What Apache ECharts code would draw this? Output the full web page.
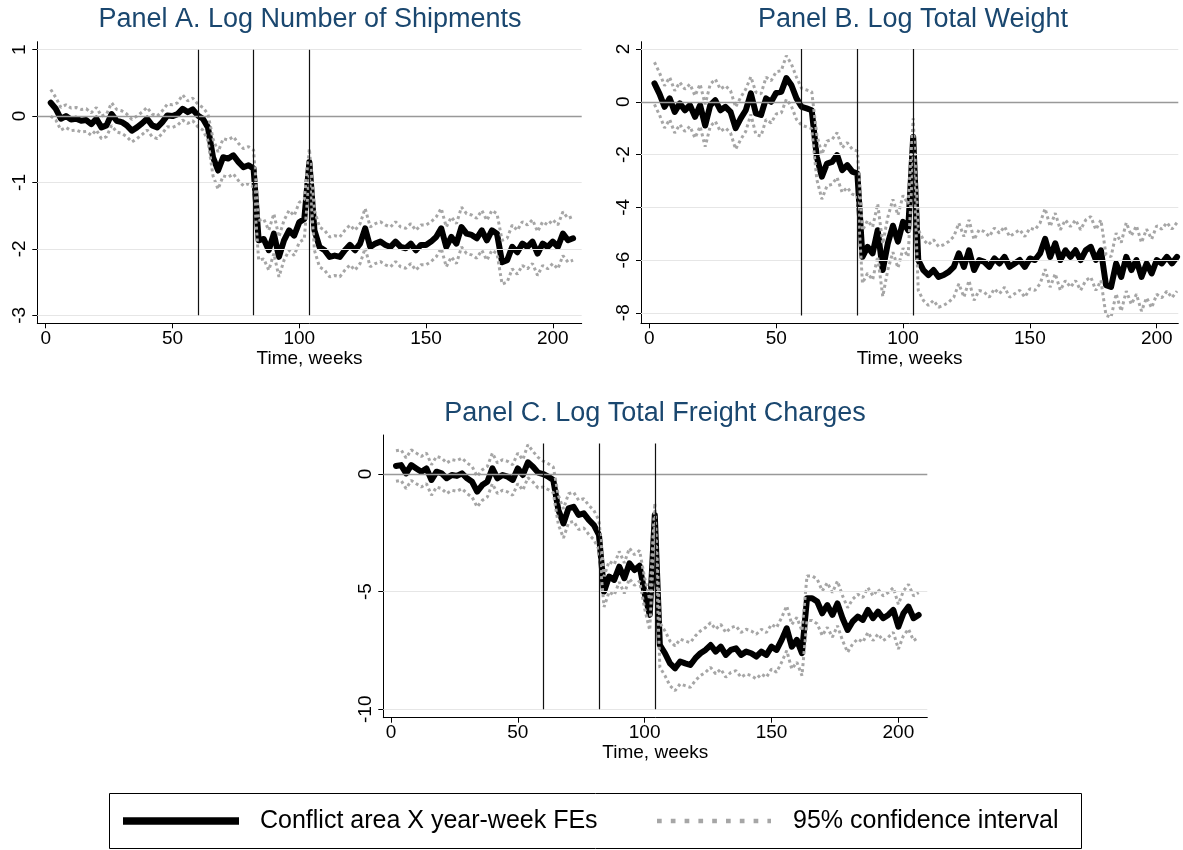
<!DOCTYPE html>
<html>
<head>
    <meta charset="UTF-8"/>
    <script src="https://cdn.jsdelivr.net/npm/echarts@6/dist/echarts.min.js"></script>
    <style>
        html, body { margin: 0; padding: 0; background: #fff; }
        #main { width: 1183px; height: 850px; }
    </style>
</head>
<body>
<div id="main"></div>
<script type="text/javascript">
    // weeks (x values shared by every series)
    var weeks = [2, 4, 6, 8, 10, 12, 14, 16, 18, 20,
        22, 24, 26, 28, 30, 32, 34, 36, 38, 40,
        42, 44, 46, 48, 50, 52, 54, 56, 58, 60,
        62, 64, 66, 68, 70, 72, 74, 76, 78, 80,
        82, 84, 86, 88, 90, 92, 94, 96, 98, 100,
        102, 104, 106, 108, 110, 112, 114, 116, 118, 120,
        122, 124, 126, 128, 130, 132, 134, 136, 138, 140,
        142, 144, 146, 148, 150, 152, 154, 156, 158, 160,
        162, 164, 166, 168, 170, 172, 174, 176, 178, 180,
        182, 184, 186, 188, 190, 192, 194, 196, 198, 200,
        202, 204, 206, 208];

    // Panel A - log number of shipments
    var aMid = [0.20, 0.11, -0.04, 0.00, -0.05, -0.04, -0.07, -0.06, -0.12, -0.04,
        -0.17, -0.14, 0.03, -0.07, -0.09, -0.14, -0.22, -0.17, -0.11, -0.04,
        -0.14, -0.17, -0.09, 0.01, 0.00, 0.03, 0.11, 0.06, 0.10, 0.01,
        -0.04, -0.17, -0.62, -0.82, -0.62, -0.64, -0.59, -0.69, -0.77, -0.74,
        -0.79, -1.87, -1.85, -2.02, -1.77, -2.12, -1.87, -1.72, -1.80, -1.60,
        -1.55, -0.69, -1.72, -1.97, -2.02, -2.12, -2.10, -2.12, -2.02, -1.94,
        -2.02, -1.92, -1.69, -1.97, -1.92, -1.89, -1.94, -1.97, -1.89, -1.97,
        -1.99, -1.92, -2.02, -1.94, -1.94, -1.89, -1.82, -1.69, -1.97, -1.82,
        -1.92, -1.67, -1.77, -1.79, -1.84, -1.72, -1.87, -1.72, -1.77, -2.20,
        -2.17, -1.97, -2.05, -1.92, -1.97, -1.89, -2.07, -1.92, -1.97, -1.89,
        -1.97, -1.77, -1.87, -1.84];
    var aHi = [0.40, 0.28, 0.13, 0.17, 0.12, 0.13, 0.10, 0.11, 0.05, 0.13,
        0.00, 0.03, 0.20, 0.10, 0.08, 0.03, -0.05, 0.00, 0.06, 0.13,
        0.03, 0.00, 0.08, 0.18, 0.17, 0.20, 0.32, 0.23, 0.27, 0.18,
        0.13, 0.03, -0.34, -0.54, -0.34, -0.36, -0.31, -0.41, -0.49, -0.46,
        -0.51, -1.57, -1.55, -1.72, -1.47, -1.82, -1.57, -1.42, -1.50, -1.30,
        -1.25, -0.49, -1.42, -1.67, -1.72, -1.82, -1.80, -1.82, -1.72, -1.64,
        -1.72, -1.62, -1.39, -1.67, -1.62, -1.59, -1.64, -1.67, -1.59, -1.67,
        -1.69, -1.62, -1.72, -1.64, -1.64, -1.59, -1.52, -1.39, -1.67, -1.52,
        -1.62, -1.37, -1.47, -1.49, -1.54, -1.42, -1.57, -1.42, -1.47, -1.87,
        -1.84, -1.64, -1.72, -1.59, -1.64, -1.56, -1.74, -1.59, -1.64, -1.56,
        -1.64, -1.44, -1.54, -1.51];
    var aLo = [0.00, -0.06, -0.21, -0.17, -0.22, -0.21, -0.24, -0.23, -0.29, -0.21,
        -0.34, -0.31, -0.14, -0.24, -0.26, -0.31, -0.39, -0.34, -0.28, -0.21,
        -0.31, -0.34, -0.26, -0.16, -0.17, -0.14, -0.06, -0.11, -0.07, -0.16,
        -0.21, -0.37, -0.90, -1.10, -0.90, -0.92, -0.87, -0.97, -1.05, -1.02,
        -1.07, -2.17, -2.15, -2.32, -2.07, -2.42, -2.17, -2.02, -2.10, -1.90,
        -1.85, -0.89, -2.02, -2.27, -2.32, -2.42, -2.40, -2.42, -2.32, -2.24,
        -2.32, -2.22, -1.99, -2.27, -2.22, -2.19, -2.24, -2.27, -2.19, -2.27,
        -2.29, -2.22, -2.32, -2.24, -2.24, -2.19, -2.12, -1.99, -2.27, -2.12,
        -2.22, -1.97, -2.07, -2.09, -2.14, -2.02, -2.17, -2.02, -2.07, -2.53,
        -2.50, -2.30, -2.38, -2.25, -2.30, -2.22, -2.40, -2.25, -2.30, -2.22,
        -2.30, -2.10, -2.20, -2.17];

    // Panel B - log total weight
    var bMid = [0.70, 0.30, -0.19, 0.13, -0.38, -0.06, -0.32, -0.13, -0.57, -0.13,
        -0.90, -0.13, 0.06, -0.32, -0.19, -0.38, -1.00, -0.63, -0.32, 0.32,
        -0.44, -0.50, 0.13, 0.00, 0.34, 0.38, 0.90, 0.63, 0.13, -0.19,
        -0.25, -0.32, -2.09, -2.84, -2.34, -2.28, -2.02, -2.59, -2.40, -2.65,
        -2.72, -5.88, -5.50, -5.75, -4.87, -6.38, -5.37, -4.70, -5.30, -4.55,
        -4.87, -1.33, -6.00, -6.38, -6.57, -6.38, -6.64, -6.57, -6.45, -6.26,
        -5.75, -6.26, -5.63, -6.38, -6.00, -6.07, -6.26, -5.94, -6.13, -5.88,
        -6.26, -6.13, -6.00, -6.26, -5.94, -6.00, -5.75, -5.20, -5.88, -5.37,
        -6.00, -5.63, -5.88, -5.63, -6.00, -5.63, -5.50, -6.00, -5.63, -6.95,
        -7.02, -6.13, -6.64, -5.88, -6.38, -6.00, -6.64, -6.13, -6.51, -6.00,
        -6.13, -5.88, -6.13, -5.88];
    var bHi = [1.50, 1.10, 0.61, 0.93, 0.42, 0.74, 0.48, 0.67, 0.23, 0.67,
        -0.10, 0.67, 0.86, 0.48, 0.61, 0.42, -0.20, 0.17, 0.48, 0.95,
        0.36, 0.30, 0.93, 0.80, 1.14, 1.18, 1.75, 1.43, 0.93, 0.51,
        0.45, 0.38, -1.24, -1.99, -1.49, -1.43, -1.17, -1.74, -1.55, -1.80,
        -1.87, -4.88, -4.50, -4.75, -3.87, -5.38, -4.37, -3.70, -4.30, -3.55,
        -3.87, -0.63, -4.85, -5.23, -5.42, -5.23, -5.49, -5.42, -5.30, -5.11,
        -4.60, -5.11, -4.48, -5.23, -4.85, -4.92, -5.11, -4.79, -4.98, -4.73,
        -5.11, -4.98, -4.85, -5.11, -4.79, -4.85, -4.60, -4.05, -4.73, -4.22,
        -4.85, -4.48, -4.73, -4.48, -4.85, -4.48, -4.35, -4.85, -4.48, -5.80,
        -5.87, -4.98, -5.34, -4.58, -5.08, -4.70, -5.34, -4.83, -5.21, -4.70,
        -4.83, -4.58, -4.83, -4.58];
    var bLo = [-0.10, -0.50, -0.99, -0.67, -1.18, -0.86, -1.12, -0.93, -1.37, -0.93,
        -1.70, -0.93, -0.74, -1.12, -0.99, -1.18, -1.80, -1.43, -1.12, -0.48,
        -1.24, -1.30, -0.67, -0.80, -0.46, -0.42, 0.10, -0.17, -0.67, -0.89,
        -0.95, -1.02, -2.94, -3.69, -3.19, -3.13, -2.87, -3.44, -3.25, -3.50,
        -3.57, -6.88, -6.50, -6.75, -5.87, -7.38, -6.37, -5.70, -6.30, -5.55,
        -5.87, -2.03, -7.15, -7.53, -7.72, -7.53, -7.79, -7.72, -7.60, -7.41,
        -6.90, -7.41, -6.78, -7.53, -7.15, -7.22, -7.41, -7.09, -7.28, -7.03,
        -7.41, -7.28, -7.15, -7.41, -7.09, -7.15, -6.90, -6.35, -7.03, -6.52,
        -7.15, -6.78, -7.03, -6.78, -7.15, -6.78, -6.65, -7.15, -6.78, -8.10,
        -8.17, -7.28, -7.94, -7.18, -7.68, -7.30, -7.94, -7.43, -7.81, -7.30,
        -7.43, -7.18, -7.43, -7.18];

    // Panel C - log total freight charges
    var cMid = [0.34, 0.38, 0.03, 0.38, 0.24, 0.10, 0.24, -0.25, 0.10, 0.03,
        -0.18, -0.04, -0.08, 0.03, -0.18, -0.33, -0.75, -0.47, -0.33, 0.24,
        -0.18, -0.04, -0.11, -0.25, 0.24, -0.04, 0.50, 0.31, 0.06, 0.00,
        -0.11, -0.25, -1.53, -2.10, -1.46, -1.39, -1.74, -1.67, -1.95, -2.17,
        -2.59, -5.00, -4.36, -4.50, -3.94, -4.43, -3.80, -4.08, -3.90, -5.07,
        -5.99, -1.74, -7.27, -7.62, -8.05, -8.26, -7.97, -8.05, -8.12, -7.83,
        -7.62, -7.48, -7.27, -7.55, -7.34, -7.69, -7.48, -7.41, -7.69, -7.55,
        -7.62, -7.76, -7.55, -7.69, -7.34, -7.48, -7.05, -6.56, -7.34, -7.05,
        -7.62, -5.28, -5.28, -5.42, -5.92, -5.57, -5.99, -5.50, -6.13, -6.63,
        -6.27, -6.06, -6.20, -5.78, -6.13, -5.85, -6.13, -5.99, -5.78, -6.49,
        -5.92, -5.64, -6.13, -5.99];
    var cHi = [0.99, 1.03, 0.68, 1.03, 0.89, 0.75, 0.89, 0.40, 0.75, 0.68,
        0.47, 0.61, 0.57, 0.68, 0.47, 0.32, -0.10, 0.18, 0.32, 0.89,
        0.47, 0.61, 0.54, 0.40, 0.89, 0.61, 1.25, 0.96, 0.71, 0.55,
        0.44, 0.30, -0.91, -1.48, -0.84, -0.77, -1.12, -1.05, -1.33, -1.55,
        -1.97, -4.35, -3.71, -3.85, -3.29, -3.78, -3.15, -3.43, -3.25, -4.42,
        -5.34, -1.24, -6.32, -6.67, -7.10, -7.31, -7.02, -7.10, -7.17, -6.88,
        -6.67, -6.53, -6.32, -6.60, -6.39, -6.74, -6.53, -6.46, -6.74, -6.60,
        -6.67, -6.81, -6.60, -6.74, -6.39, -6.53, -6.10, -5.61, -6.39, -6.10,
        -6.67, -4.33, -4.33, -4.47, -4.97, -4.62, -5.04, -4.55, -5.18, -5.68,
        -5.32, -5.11, -5.25, -4.83, -5.18, -4.90, -5.18, -5.04, -4.83, -5.54,
        -4.97, -4.69, -5.18, -5.04];
    var cLo = [-0.31, -0.27, -0.62, -0.27, -0.41, -0.55, -0.41, -0.90, -0.55, -0.62,
        -0.83, -0.69, -0.73, -0.62, -0.83, -0.98, -1.40, -1.12, -0.98, -0.41,
        -0.83, -0.69, -0.76, -0.90, -0.41, -0.69, -0.15, -0.34, -0.59, -0.55,
        -0.66, -0.80, -2.15, -2.72, -2.08, -2.01, -2.36, -2.29, -2.57, -2.79,
        -3.21, -5.65, -5.01, -5.15, -4.59, -5.08, -4.45, -4.73, -4.55, -5.72,
        -6.64, -2.24, -8.22, -8.57, -9.00, -9.21, -8.92, -9.00, -9.07, -8.78,
        -8.57, -8.43, -8.22, -8.50, -8.29, -8.64, -8.43, -8.36, -8.64, -8.50,
        -8.57, -8.71, -8.50, -8.64, -8.29, -8.43, -8.00, -7.51, -8.29, -8.00,
        -8.57, -6.23, -6.23, -6.37, -6.87, -6.52, -6.94, -6.45, -7.08, -7.58,
        -7.22, -7.01, -7.15, -6.73, -7.08, -6.80, -7.08, -6.94, -6.73, -7.44,
        -6.87, -6.59, -7.08, -6.94];

    // tick labels
    var xTicks = [0, 50, 100, 150, 200];
    var aTicks = [-3, -2, -1, 0, 1];
    var bTicks = [-8, -6, -4, -2, 0, 2];
    var cTicks = [-10, -5, 0];
    var eventWeeks = [60, 82, 104];

    var font = '"Liberation Sans", Arial, Helvetica, sans-serif';

    // layout of the three panels
    var panels = [
        {
            grid: {left: 37.3, top: 41.7, width: 544.4, height: 281.6},
            xMin: -3.3, xMax: 211.4, yMin: -3.12, yMax: 1.12,
            yTicks: aTicks, vTop: 1, vBot: -3,
            mid: aMid, hi: aHi, lo: aLo
        },
        {
            grid: {left: 641, top: 41.7, width: 537.3, height: 281.6},
            xMin: -3.3, xMax: 208.5, yMin: -8.4, yMax: 2.28,
            yTicks: bTicks, vTop: 2, vBot: -8.1,
            mid: bMid, hi: bHi, lo: bLo
        },
        {
            grid: {left: 383.3, top: 435, width: 544, height: 282.7},
            xMin: -3.0, xMax: 211.4, yMin: -10.36, yMax: 1.66,
            yTicks: cTicks, vTop: 1.3, vBot: -10,
            mid: cMid, hi: cHi, lo: cLo
        }
    ];

    function pairs(arr) {
        return weeks.map(function (w, i) {
            return [w, arr[i]];
        });
    }

    var grids = [], xAxes = [], yAxes = [], series = [];
    panels.forEach(function (p, i) {
        grids.push(p.grid);
        xAxes.push({
            type: 'value', gridIndex: i, min: p.xMin, max: p.xMax,
            name: 'Time, weeks', nameLocation: 'middle', nameGap: 26,
            nameTextStyle: {fontSize: 19, color: '#000', fontFamily: font},
            axisLine: {onZero: false, lineStyle: {color: '#000', width: 1}},
            axisTick: {customValues: xTicks, inside: false, length: 5, lineStyle: {color: '#000'}},
            axisLabel: {customValues: xTicks, fontSize: 19, color: '#000', margin: 6, fontFamily: font},
            splitLine: {show: false}
        });
        yAxes.push({
            type: 'value', gridIndex: i, min: p.yMin, max: p.yMax,
            axisLine: {show: true, onZero: false, lineStyle: {color: '#000', width: 1}},
            axisTick: {show: true, inside: false, customValues: p.yTicks, length: 5, lineStyle: {color: '#000'}},
            axisLabel: {customValues: p.yTicks, rotate: 90, fontSize: 19, color: '#000', margin: 8, fontFamily: font},
            splitLine: {show: false}
        });
        // light grid lines
        series.push({
            type: 'line', xAxisIndex: i, yAxisIndex: i, data: [], z: 1, silent: true,
            markLine: {
                symbol: 'none', silent: true, animation: false, label: {show: false},
                lineStyle: {color: '#e6e6e6', width: 1, type: 'solid'},
                data: p.yTicks.filter(function (v) { return v !== 0; }).map(function (v) {
                    return {yAxis: v};
                })
            }
        });
        // zero line and event lines
        var refs = [{yAxis: 0, lineStyle: {color: '#999999', width: 1.3, type: 'solid'}}];
        eventWeeks.forEach(function (w) {
            refs.push([{coord: [w, p.vTop]}, {coord: [w, p.vBot]}]);
        });
        series.push({
            type: 'line', xAxisIndex: i, yAxisIndex: i, data: [], z: 2, silent: true,
            markLine: {
                symbol: 'none', silent: true, animation: false, label: {show: false},
                lineStyle: {color: '#111', width: 1.2, type: 'solid'},
                data: refs
            }
        });
        series.push({
            name: 'Conflict area X year-week FEs',
            type: 'line', xAxisIndex: i, yAxisIndex: i, z: 3,
            data: pairs(p.mid), showSymbol: false, symbol: 'none', silent: true,
            lineStyle: {color: '#000', width: 6, join: 'round', cap: 'round'}
        });
        [p.hi, p.lo].forEach(function (arr) {
            series.push({
                name: '95% confidence interval',
                type: 'line', xAxisIndex: i, yAxisIndex: i, z: 4,
                data: pairs(arr), showSymbol: false, symbol: 'none', silent: true,
                lineStyle: {color: '#a6a6a6', width: 3, type: [3, 3]}
            });
        });
    });

    var titleStyle = {fill: '#1a476f', fontSize: 27, fontFamily: font, align: 'center', verticalAlign: 'middle'};
    function title(text, x, y) {
        return {type: 'text', x: x, y: y, style: Object.assign({text: text}, titleStyle)};
    }

    var option = {
        animation: false,
        backgroundColor: '#fff',
        textStyle: {fontFamily: font},
        grid: grids,
        xAxis: xAxes,
        yAxis: yAxes,
        series: series,
        graphic: [
            title('Panel A. Log Number of Shipments', 310, 20),
            title('Panel B. Log Total Weight', 913, 20),
            title('Panel C. Log Total Freight Charges', 655, 414),
            // legend box
            {
                type: 'rect', shape: {x: 109.5, y: 793.5, width: 972, height: 55},
                style: {fill: '#fff', stroke: '#000', lineWidth: 1}
            },
            {
                type: 'line', shape: {x1: 123, y1: 821, x2: 239, y2: 821},
                style: {stroke: '#000', lineWidth: 7.5}
            },
            {
                type: 'text', x: 260, y: 821,
                style: {text: 'Conflict area X year-week FEs', fill: '#000', fontSize: 25, fontFamily: font, verticalAlign: 'middle'}
            },
            {
                type: 'line', shape: {x1: 657, y1: 821, x2: 771, y2: 821},
                style: {stroke: '#a6a6a6', lineWidth: 4.7, lineDash: [4.7, 9.1]}
            },
            {
                type: 'text', x: 793, y: 821,
                style: {text: '95% confidence interval', fill: '#000', fontSize: 25, fontFamily: font, verticalAlign: 'middle'}
            }
        ]
    };

    var myChart = echarts.init(document.getElementById('main'));
    myChart.setOption(option);
</script>
</body>
</html>
